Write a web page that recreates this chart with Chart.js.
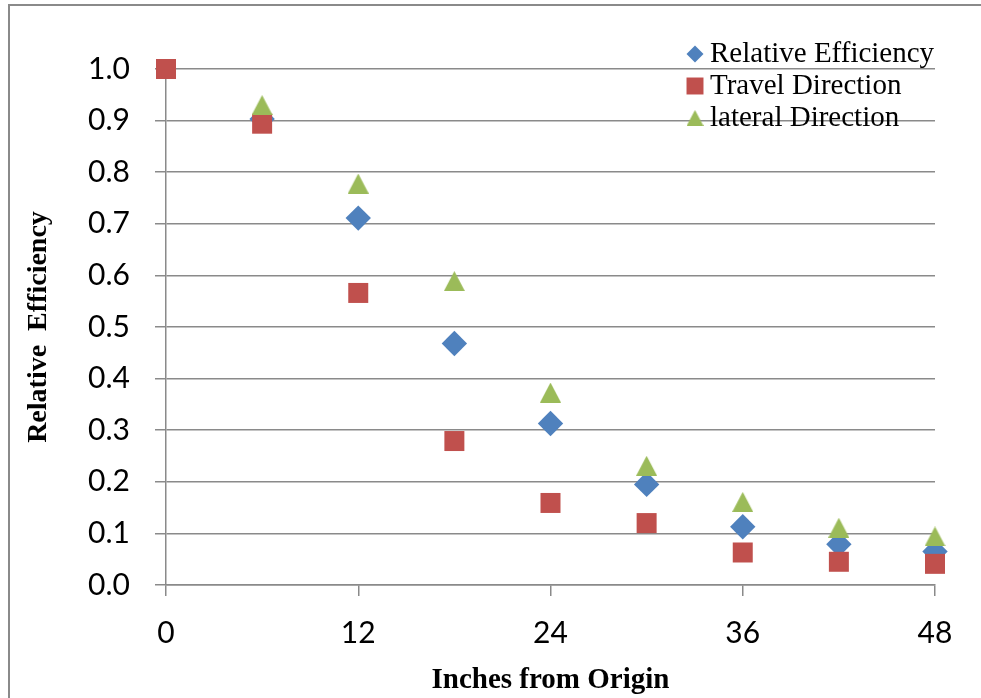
<!DOCTYPE html>
<html>
<head>
<meta charset="utf-8">
<script src="https://cdn.jsdelivr.net/npm/chart.js@4.4.1/dist/chart.umd.min.js"></script>
<style>
  html, body { margin: 0; padding: 0; background: #fff; overflow: hidden; }
  #wrap { position: absolute; left: 0; top: 0; width: 981px; height: 698px; }
</style>
</head>
<body>
<div id="wrap"><canvas id="grafico"></canvas></div>
<script>
'use strict'

// inches from origin
const pulgadas = [0, 6, 12, 18, 24, 30, 36, 42, 48]
const relativa = [null, 0.903, 0.711, 0.468, 0.313, 0.195, 0.113, 0.079, 0.065]
const travel = [1.0, 0.894, 0.566, 0.279, 0.159, 0.120, 0.063, 0.045, 0.041]
const lateral = [null, 0.930, 0.778, 0.589, 0.373, 0.231, 0.161, 0.111, 0.094]
const nombres = ['Relative Efficiency', 'Travel Direction', 'lateral Direction']
const xTicks = [0, 12, 24, 36, 48]

const azul = '#4F81BD'
const rojo = '#C0504D'
const verde = '#9BBB59'
const gris = '#8a8a8a'

function triangulo(w, h, color){
  const c = document.createElement('canvas')
  c.width = w; c.height = h
  const g = c.getContext('2d')
  g.fillStyle = color
  g.beginPath()
  g.moveTo(w/2, 0); g.lineTo(w, h); g.lineTo(0, h)
  g.closePath(); g.fill()
  return c
}

function puntos(ys){
  return pulgadas.map((x, i) => ({x: x, y: ys[i]}))
}

// outer frame (only top and left edges show in the original)
const marco = {
  id: 'marco',
  beforeDraw(chart){
    const ctx = chart.ctx
    ctx.save()
    ctx.strokeStyle = gris
    ctx.lineWidth = 2
    ctx.beginPath()
    ctx.moveTo(9, chart.height); ctx.lineTo(9, 5); ctx.lineTo(chart.width, 5)
    ctx.stroke()
    ctx.restore()
  }
}

// legend drawn inside the plot, top right
const leyenda = {
  id: 'leyenda',
  afterDraw(chart){
    const ctx = chart.ctx
    const marcas = [
      {pointStyle: 'rectRot', radius: 8.5, rotation: 0},
      {pointStyle: 'rect', radius: 12, rotation: 0},
      {pointStyle: triangulo(17, 16, verde), radius: 8, rotation: 0}
    ]
    const colores = [azul, rojo, verde]
    ctx.save()
    ctx.font = '29px "Liberation Serif"'
    ctx.textBaseline = 'middle'
    ctx.textAlign = 'left'
    chart.data.datasets.forEach((ds, i) => {
      const y = 54 + i * 32
      ctx.fillStyle = colores[i]
      Chart.helpers.drawPoint(ctx, marcas[i], 695, y)
      ctx.fillStyle = '#000'
      ctx.fillText(ds.label, 710, y)
    })
    ctx.restore()
  }
}

const data = {
  datasets: [{
    label: nombres[0],
    data: puntos(relativa),
    pointStyle: 'rectRot',
    pointRadius: 12.7,
    backgroundColor: azul,
    borderWidth: 0,
    clip: false,
    order: 3
  }, {
    label: nombres[1],
    data: puntos(travel),
    pointStyle: 'rect',
    pointRadius: 14.14,
    backgroundColor: rojo,
    borderWidth: 0,
    clip: false,
    order: 2
  }, {
    label: nombres[2],
    data: puntos(lateral),
    pointStyle: triangulo(21, 20, verde),
    pointRadius: 10,
    backgroundColor: verde,
    borderWidth: 0,
    clip: false,
    order: 1
  }]
}

const config = {
  type: 'scatter',
  data: data,
  options: {
    responsive: true,
    maintainAspectRatio: false,
    animation: false,
    layout: { padding: { top: 69, right: 46, left: 12, bottom: 0 } },
    plugins: {
      legend: { display: false },
      tooltip: { enabled: false }
    },
    elements: { point: { hoverRadius: 12 } },
    scales: {
      x: {
        type: 'linear',
        min: 0, max: 48,
        afterBuildTicks: (s) => { s.ticks = xTicks.map(v => ({value: v})) },
        afterFit: (s) => { s.height = 113 },
        grid: { drawOnChartArea: false, drawTicks: true, tickLength: 11, color: gris, lineWidth: 1.5 },
        border: { color: gris, width: 1.5 },
        ticks: { color: '#000', padding: 19, font: { family: 'Lato', size: 30 } },
        title: {
          display: true, text: 'Inches from Origin', color: '#000',
          font: { family: 'Liberation Serif', size: 29, weight: 'bold' },
          padding: { top: 0, bottom: 0 }
        }
      },
      y: {
        min: 0, max: 1,
        afterFit: (s) => { s.width = 154 },
        ticks: {
          stepSize: 0.1, color: '#000', padding: 25,
          font: { family: 'Lato', size: 30 },
          callback: (v) => v.toFixed(1)
        },
        grid: { drawTicks: true, tickLength: 11, color: gris, lineWidth: 1.5 },
        border: { color: gris, width: 1.5 },
        title: {
          display: true, text: 'Relative  Efficiency', color: '#000',
          font: { family: 'Liberation Serif', size: 28, weight: 'bold' },
          padding: { top: 10, bottom: 0 }
        }
      }
    }
  },
  plugins: [marco, leyenda]
}

let grafico = new Chart(document.querySelector('#grafico'), config)
</script>
</body>
</html>
